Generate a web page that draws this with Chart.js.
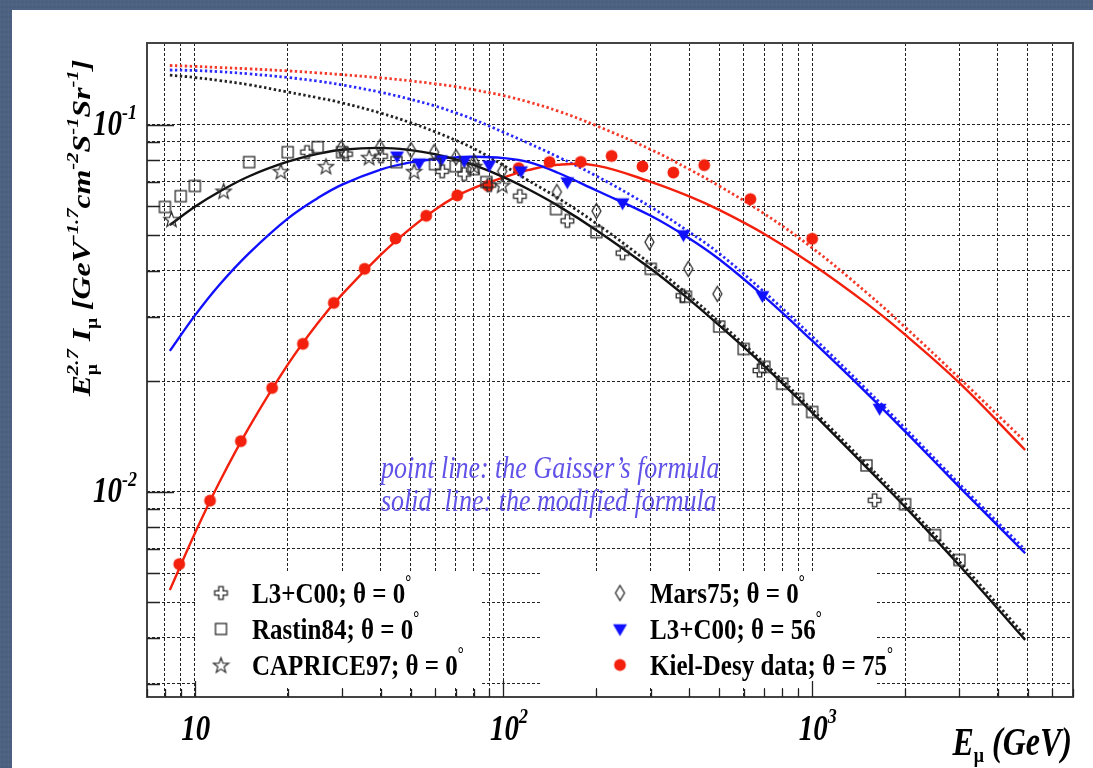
<!DOCTYPE html>
<html>
<head>
<meta charset="utf-8">
<title>Muon spectrum</title>
<script src="https://cdn.jsdelivr.net/npm/chart.js@4.4.1/dist/chart.umd.min.js"></script>
<style>
  html, body { margin: 0; padding: 0; }
  body {
    width: 1093px; height: 768px; overflow: hidden; position: relative;
    background-color: #4d6282;
    background-image:
      repeating-linear-gradient(90deg, rgba(255,255,255,0.025) 0 1px, transparent 1px 4px),
      repeating-linear-gradient(0deg, rgba(0,0,0,0.04) 0 2px, transparent 2px 5px);
  }
  #panel { position: absolute; left: 12px; top: 10px; right: 0; bottom: 0; background: #fff; }
  #trendChart { position: absolute; left: 0; top: 0; }
</style>
</head>
<body>
<div id="panel"></div>
<canvas id="trendChart" width="1093" height="768"></canvas>
<script>
// axis ranges and labelled ticks
const xMin = 7, xMax = 7000;
const yMin = 0.00276, yMax = 0.167;
const xTickValues = [10, 100, 1000];
const xTickExps = ["", "2", "3"];
const yTickValues = [0.1, 0.01];
const yTickExps = ["-1", "-2"];

// measurements: E (GeV) and E^2.7 * I
const l3c00Energy = [23.1, 30.9, 40.1, 63.3, 74.6, 89.9, 113, 161, 243, 380, 675, 1594];
const l3c00Flux = [0.0842, 0.0832, 0.0821, 0.0747, 0.0734, 0.0685, 0.0639, 0.0547, 0.0447, 0.0342, 0.0214, 0.00948];

const rastinEnergy = [8, 9, 10, 15, 20, 25, 30, 45, 60, 70, 80, 88, 148, 200, 300, 390, 500, 600, 700, 800, 900, 1000, 1500, 2000, 2500, 3000];
const rastinFlux = [0.0597, 0.0639, 0.0681, 0.0791, 0.0842, 0.0869, 0.0842, 0.0791, 0.0781, 0.0771, 0.0757, 0.0698, 0.0589, 0.0510, 0.0405, 0.0340, 0.0282, 0.0245, 0.0219, 0.0197, 0.0179, 0.0165, 0.0118, 0.00925, 0.00762, 0.00652];

const capriceEnergy = [8.4, 12.4, 19.0, 26.6, 36.7, 51.3, 80.4, 99];
const capriceFlux = [0.0553, 0.0660, 0.0747, 0.0771, 0.0816, 0.0747, 0.0771, 0.0685];

const marsEnergy = [29.8, 39.8, 50.2, 59.6, 70.2, 80.4, 99, 149, 200, 297, 397, 493];
const marsFlux = [0.0863, 0.0869, 0.0853, 0.0842, 0.0816, 0.0791, 0.0747, 0.0656, 0.0582, 0.0479, 0.0405, 0.0346];

const l3c56Energy = [45.2, 53.3, 62.8, 74.6, 89.9, 114, 161, 243, 383, 690, 1654];
const l3c56Flux = [0.0821, 0.0786, 0.0801, 0.0796, 0.0776, 0.0748, 0.0698, 0.0612, 0.0501, 0.0342, 0.01686];

const kielEnergy = [8.9, 11.2, 14.1, 17.8, 22.4, 28.2, 35.5, 44.7, 56.2, 70.8, 89.1, 112, 141, 178, 224, 282, 355, 447, 631, 1000];
const kielFlux = [0.00635, 0.00946, 0.01374, 0.01918, 0.0253, 0.0327, 0.0405, 0.0490, 0.0565, 0.0642, 0.0682, 0.0762, 0.0791, 0.0792, 0.0822, 0.0770, 0.0741, 0.0776, 0.0627, 0.0489];

// formula curves, read at these energies
const curveEnergy = [8.3, 10, 12, 15, 20, 25, 30, 40, 50, 60, 70, 80, 100, 120, 150, 200, 300, 400, 500, 700, 1000, 1500, 2000, 3000, 4900];
const modified0 = [0.0533, 0.0598, 0.0657, 0.0724, 0.0793, 0.0833, 0.0855, 0.0865, 0.0853, 0.0832, 0.0805, 0.0777, 0.0720, 0.0668, 0.0602, 0.0516, 0.0405, 0.0334, 0.0284, 0.0220, 0.01644, 0.01165, 0.0091, 0.0063, 0.00395];
const gaisser0 = [0.1365, 0.1345, 0.1320, 0.1285, 0.1228, 0.1185, 0.1147, 0.1076, 0.1013, 0.0957, 0.0907, 0.0862, 0.0775, 0.0706, 0.0632, 0.0538, 0.0417, 0.0342, 0.0290, 0.0224, 0.01675, 0.0119, 0.0093, 0.00645, 0.00405];
const modified56 = [0.0242, 0.0302, 0.0366, 0.0447, 0.0555, 0.0631, 0.0687, 0.0755, 0.0790, 0.0806, 0.0815, 0.0818, 0.0811, 0.0792, 0.0740, 0.0662, 0.0565, 0.0490, 0.0430, 0.0340, 0.0258, 0.0186, 0.0146, 0.0103, 0.0068];
const gaisser56 = [0.141, 0.1405, 0.1395, 0.1376, 0.1345, 0.1315, 0.1284, 0.1226, 0.1173, 0.1125, 0.1078, 0.1034, 0.0954, 0.0892, 0.0818, 0.0725, 0.0597, 0.0510, 0.0446, 0.0350, 0.0265, 0.0190, 0.0149, 0.0105, 0.00695];
const modified75 = [0.0054, 0.0077, 0.0106, 0.0150, 0.0222, 0.0288, 0.0345, 0.0442, 0.0522, 0.0587, 0.0637, 0.0672, 0.0718, 0.0752, 0.0778, 0.0774, 0.0699, 0.0638, 0.0586, 0.0504, 0.0417, 0.0326, 0.0268, 0.0198, 0.0130];
const gaisser75 = [0.145, 0.1442, 0.1432, 0.1420, 0.1402, 0.1385, 0.1369, 0.1342, 0.1317, 0.1293, 0.1270, 0.1246, 0.1200, 0.1155, 0.1090, 0.0994, 0.0856, 0.0756, 0.0681, 0.0572, 0.0462, 0.0349, 0.0281, 0.0204, 0.0137];

const BLACK = "#111", BLUE = "#1010ff", RED = "#f2200c", MARK = "#2a2a2a";
const SERIF = '"Liberation Serif", "Times New Roman", serif';

// grid positions: 1..9 in every decade
function decadeGrid(lo, hi) {
    const out = [];
    for (let e = Math.floor(Math.log10(lo)); e <= Math.ceil(Math.log10(hi)); e++) {
        for (let m = 1; m <= 9; m++) {
            const v = +(m * Math.pow(10, e)).toPrecision(6);
            if (v >= lo && v <= hi) out.push(v);
        }
    }
    return out;
}
const xGrid = decadeGrid(xMin, xMax);
const yGrid = decadeGrid(yMin, yMax);

// marker images
function marker(size, draw) {
    const c = document.createElement("canvas");
    c.width = c.height = size;
    const g = c.getContext("2d");
    draw(g, size / 2);
    return c;
}
const crossMark = marker(17, (g, c) => {
    const a = 2.2, b = 6.3;
    const p = [[-a,-b],[a,-b],[a,-a],[b,-a],[b,a],[a,a],[a,b],[-a,b],[-a,a],[-b,a],[-b,-a],[-a,-a]];
    g.beginPath();
    p.forEach(([dx, dy], i) => i ? g.lineTo(c + dx, c + dy) : g.moveTo(c + dx, c + dy));
    g.closePath();
    g.strokeStyle = MARK; g.lineWidth = 1.3; g.stroke();
});
const squareMark = marker(17, (g, c) => {
    g.strokeStyle = MARK; g.lineWidth = 1.3;
    g.strokeRect(c - 5.5, c - 5.5, 11, 11);
});
const starMark = marker(19, (g, c) => {
    g.beginPath();
    for (let i = 0; i < 10; i++) {
        const r = i % 2 ? 3.3 : 8;
        const a = -Math.PI / 2 + i * Math.PI / 5;
        const px = c + r * Math.cos(a), py = c + 0.8 + r * Math.sin(a);
        i ? g.lineTo(px, py) : g.moveTo(px, py);
    }
    g.closePath();
    g.strokeStyle = MARK; g.lineWidth = 1.2; g.stroke();
});
const diamondMark = marker(19, (g, c) => {
    g.beginPath();
    g.moveTo(c, c - 7.5); g.lineTo(c + 4.5, c); g.lineTo(c, c + 7.5); g.lineTo(c - 4.5, c);
    g.closePath();
    g.strokeStyle = MARK; g.lineWidth = 1.3; g.stroke();
});
const triMark = marker(19, (g, c) => {
    g.beginPath();
    g.moveTo(c - 7, c - 4.8); g.lineTo(c + 7, c - 4.8); g.lineTo(c, c + 7.2);
    g.closePath();
    g.fillStyle = BLUE; g.fill();
});
const dotMark = marker(15, (g, c) => {
    g.beginPath();
    g.arc(c, c, 5.9, 0, Math.PI * 2);
    g.fillStyle = RED; g.fill();
});

const pairs = (es, vs) => es.map((e, i) => ({ x: e, y: vs[i] }));

function points(label, es, vs, style) {
    return {
        label: label,
        data: pairs(es, vs),
        showLine: false,
        pointStyle: style,
        pointRadius: 6,
        pointHoverRadius: 6
    };
}
function curve(values, color, dotted) {
    return {
        data: pairs(curveEnergy, values),
        showLine: true,
        borderColor: color,
        borderWidth: dotted ? 2.8 : 2.4,
        borderDash: dotted ? [2.4, 2.6] : [],
        pointRadius: 0,
        tension: 0.4,
        fill: false
    };
}

const legendRows = [
    { col: 0, text: "L3+C00; θ = 0", mark: crossMark },
    { col: 0, text: "Rastin84; θ = 0", mark: squareMark },
    { col: 0, text: "CAPRICE97; θ = 0", mark: starMark },
    { col: 1, text: "Mars75; θ = 0", mark: diamondMark },
    { col: 1, text: "L3+C00; θ = 56", mark: triMark },
    { col: 1, text: "Kiel-Desy data; θ = 75", mark: dotMark }
];

// rich text: parts of {t, f, dy, stack}
function drawRich(ctx, parts, o) {
    ctx.save();
    ctx.translate(o.x, o.y);
    if (o.rot) ctx.rotate(o.rot);
    ctx.scale(o.sx || 1, o.sy || 1);
    ctx.fillStyle = o.color || "#000";
    ctx.textBaseline = "alphabetic";
    ctx.textAlign = "left";
    const w = parts.map(p => { ctx.font = p.f; return ctx.measureText(p.t).width; });
    let total = 0;
    parts.forEach((p, i) => { if (!p.stack) total += w[i]; });
    let cx = o.align === "center" ? -total / 2 : o.align === "right" ? -total : 0;
    if (o.anchorFirst) cx = -w[0] / 2;
    parts.forEach((p, i) => {
        ctx.font = p.f;
        ctx.fillText(p.t, cx, p.dy || 0);
        if (!p.stack) cx += w[i];
    });
    ctx.restore();
}

const SY = 1.22;
const tickFont = "italic bold 29px " + SERIF;
const tickSup = "italic bold 18px " + SERIF;

const decorations = {
    id: "decorations",
    beforeDatasetsDraw(chart) {
        const ctx = chart.ctx;
        ctx.save();
        ctx.fillStyle = "#fff";
        ctx.fillRect(197, 572, 283, 116);
        ctx.fillRect(540, 572, 336, 116);
        ctx.restore();
    },
    afterDraw(chart) {
        const { ctx, chartArea: a } = chart;
        const xs = chart.scales.x, ys = chart.scales.y;

        // frame and inward ticks
        ctx.save();
        ctx.strokeStyle = "#444";
        ctx.lineWidth = 2;
        ctx.strokeRect(a.left, a.top, a.right - a.left, a.bottom - a.top);
        ctx.lineWidth = 1.3;
        ctx.strokeStyle = "#222";
        ctx.beginPath();
        yGrid.forEach(v => {
            const py = Math.round(ys.getPixelForValue(v)) + 0.5;
            const len = yTickValues.includes(v) ? 27 : 13;
            ctx.moveTo(a.left, py); ctx.lineTo(a.left + len, py);
        });
        xGrid.forEach(v => {
            const px = Math.round(xs.getPixelForValue(v)) + 0.5;
            const len = xTickValues.includes(v) ? 16 : 8;
            ctx.moveTo(px, a.bottom); ctx.lineTo(px, a.bottom - len);
        });
        ctx.stroke();
        ctx.restore();

        // tick labels
        xTickValues.forEach((v, i) => {
            const parts = [{ t: "10", f: tickFont }];
            if (xTickExps[i]) parts.push({ t: xTickExps[i], f: tickSup, dy: -14 });
            drawRich(ctx, parts, { x: xs.getPixelForValue(v) + 1, y: 740, sy: SY, anchorFirst: true });
        });
        yTickValues.forEach((v, i) => {
            drawRich(ctx, [{ t: "10", f: tickFont }, { t: yTickExps[i], f: tickSup, dy: -13 }],
                { x: 137, y: ys.getPixelForValue(v) + 10, sy: SY, align: "right" });
        });

        // axis titles
        const tb = "italic bold 32px " + SERIF;
        drawRich(ctx, [
            { t: "E", f: tb },
            { t: "μ", f: "bold 18px " + SERIF, dy: 6 },
            { t: " (GeV)", f: tb }
        ], { x: 1072, y: 755, sy: SY, align: "right" });

        const yb = "italic bold 26px " + SERIF, ysm = "italic bold 17px " + SERIF;
        drawRich(ctx, [
            { t: "E", f: yb },
            { t: "μ", f: "bold 16px " + SERIF, dy: 7, stack: true },
            { t: "2.7", f: ysm, dy: -12 },
            { t: " I", f: yb },
            { t: "μ", f: "bold 16px " + SERIF, dy: 7 },
            { t: " [GeV", f: yb },
            { t: "-1.7", f: ysm, dy: -12 },
            { t: "cm", f: yb },
            { t: "-2", f: ysm, dy: -12 },
            { t: "S", f: yb },
            { t: "-1", f: ysm, dy: -12 },
            { t: "Sr", f: yb },
            { t: "-1", f: ysm, dy: -12 },
            { t: "]", f: yb }
        ], { x: 90, y: 228, rot: -Math.PI / 2, sx: SY, align: "center" });

        // note on line styles
        const nf = "italic 26px " + SERIF;
        drawRich(ctx, [{ t: "point line: the Gaisser’s formula", f: nf }], { x: 381, y: 478, sy: SY, color: "#6152e8" });
        drawRich(ctx, [{ t: "solid  line: the modified formula", f: nf }], { x: 381, y: 511, sy: SY, color: "#6152e8" });

        // legend
        const lf = "bold 25px " + SERIF;
        const rowY = [593, 629, 665];
        [0, 1].forEach(col => {
            legendRows.filter(r => r.col === col).forEach((r, i) => {
                const mx = col ? 620 : 221, tx = col ? 650 : 252;
                const cy = rowY[i];
                ctx.drawImage(r.mark, mx - r.mark.width / 2, cy - r.mark.height / 2);
                drawRich(ctx, [{ t: r.text, f: lf }, { t: "°", f: "bold 15px " + SERIF, dy: -12 }],
                    { x: tx, y: cy + 10, sy: SY });
            });
        });
    }
};

new Chart(document.getElementById("trendChart"), {
    type: "scatter",
    data: {
        datasets: [
            points("L3+C00; θ = 0", l3c00Energy, l3c00Flux, crossMark),
            points("Rastin84; θ = 0", rastinEnergy, rastinFlux, squareMark),
            points("CAPRICE97; θ = 0", capriceEnergy, capriceFlux, starMark),
            points("Mars75; θ = 0", marsEnergy, marsFlux, diamondMark),
            points("L3+C00; θ = 56", l3c56Energy, l3c56Flux, triMark),
            points("Kiel-Desy data; θ = 75", kielEnergy, kielFlux, dotMark),
            curve(modified0, BLACK, false),
            curve(modified56, BLUE, false),
            curve(modified75, RED, false),
            curve(gaisser0, "#222", true),
            curve(gaisser56, "#2a2aff", true),
            curve(gaisser75, "#f43a2a", true)
        ]
    },
    options: {
        responsive: false,
        animation: false,
        events: [],
        layout: {
            padding: { left: 0, top: 43, right: 20, bottom: 0 }
        },
        plugins: {
            legend: { display: false },
            tooltip: { enabled: false }
        },
        scales: {
            x: {
                type: "logarithmic",
                min: xMin,
                max: xMax,
                afterBuildTicks: s => { s.ticks = xGrid.map(v => ({ value: v })); },
                afterFit: s => { s.height = 71; },
                ticks: { display: false },
                grid: { color: "#222", lineWidth: 1, drawTicks: false },
                border: { display: false, dash: [3, 2] }
            },
            y: {
                type: "logarithmic",
                min: yMin,
                max: yMax,
                afterBuildTicks: s => { s.ticks = yGrid.map(v => ({ value: v })); },
                afterFit: s => { s.width = 147; },
                ticks: { display: false },
                grid: { color: "#222", lineWidth: 1, drawTicks: false },
                border: { display: false, dash: [3, 2] }
            }
        }
    },
    plugins: [decorations]
});
</script>
</body>
</html>
